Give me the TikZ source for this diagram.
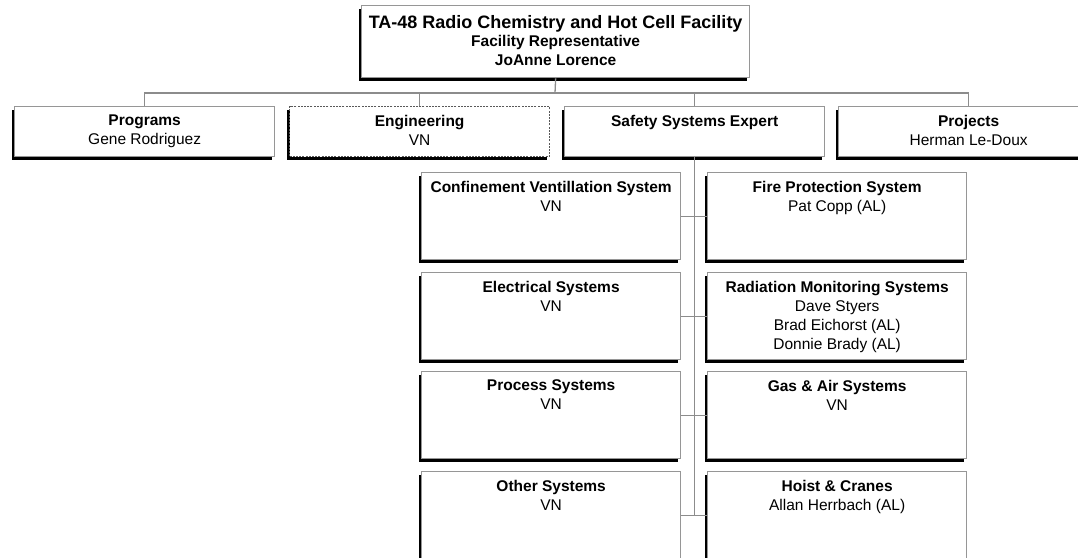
\documentclass[tikz,border=0pt]{standalone}
\usepackage{fontspec}
\setmainfont{Liberation Sans}
\usetikzlibrary{shadows}

\definecolor{boxgray}{RGB}{150,150,150}
\definecolor{linegray}{RGB}{140,140,140}

\tikzset{
    orgbox/.style={draw=boxgray, line width=1.3pt, fill=white, anchor=north west, inner sep=0pt,
        drop shadow={shadow xshift=-3pt, shadow yshift=-3pt, fill=black, opacity=1}},
    headbox/.style={orgbox, minimum width=388pt, minimum height=72pt},
    topbox/.style={orgbox, minimum width=260pt, minimum height=50pt},
    sysbox/.style={orgbox, minimum width=259pt, minimum height=87pt},
    vacant/.style={draw=black!65, dash pattern=on 2pt off 1.2pt},
    boxtext/.style={anchor=north, align=center, inner sep=0pt, font=\fontsize{15.5}{19}\selectfont},
    conn/.style={draw=linegray, line width=1.3pt}
}

\begin{document}
\begin{tikzpicture}[x=1pt, y=-1pt]
    \useasboundingbox (0,0) rectangle (1078,557);

    % Facility head
    \node[headbox] (head) at (361,5) {};
    \node[boxtext, font=\bfseries\fontsize{15.5}{19}\selectfont] (head-t) at ([yshift=-10pt]head.north)
        {{\fontsize{18}{21}\selectfont TA-48 Radio Chemistry and Hot Cell Facility}\\[-0.5pt] Facility Representative\\ JoAnne Lorence};

    % First level
    \node[topbox] (prog) at (14,106) {};
    \node[boxtext] (prog-t) at ([yshift=-8.7pt]prog.north) {\textbf{Programs}\\ Gene Rodriguez};
    \node[topbox, vacant] (eng) at (289,106) {};
    \node[boxtext] (eng-t) at ([yshift=-8.7pt]eng.north) {\textbf{Engineering}\\ VN};
    \node[topbox] (sse) at (564,106) {};
    \node[boxtext] (sse-t) at ([yshift=-8.7pt]sse.north) {\textbf{Safety Systems Expert}};
    \node[topbox] (proj) at (838,106) {};
    \node[boxtext] (proj-t) at ([yshift=-8.7pt]proj.north) {\textbf{Projects}\\ Herman Le-Doux};

    % Safety systems, left column
    \node[sysbox] (cvs) at (421,172) {};
    \node[boxtext] (cvs-t) at ([yshift=-8.7pt]cvs.north) {\textbf{Confinement Ventillation System}\\ VN};
    \node[sysbox] (elec) at (421,272) {};
    \node[boxtext] (elec-t) at ([yshift=-8.7pt]elec.north) {\textbf{Electrical Systems}\\ VN};
    \node[sysbox] (proc) at (421,371) {};
    \node[boxtext] (proc-t) at ([yshift=-8.7pt]proc.north) {\textbf{Process Systems}\\ VN};
    \node[sysbox] (other) at (421,471) {};
    \node[boxtext] (other-t) at ([yshift=-8.7pt]other.north) {\textbf{Other Systems}\\ VN};

    % Safety systems, right column
    \node[sysbox] (fire) at (707,172) {};
    \node[boxtext] (fire-t) at ([yshift=-8.7pt]fire.north) {\textbf{Fire Protection System}\\ Pat Copp (AL)};
    \node[sysbox] (rad) at (707,272) {};
    \node[boxtext] (rad-t) at ([yshift=-8.7pt]rad.north)
        {\textbf{Radiation Monitoring Systems}\\ Dave Styers\\ Brad Eichorst (AL)\\ Donnie Brady (AL)};
    \node[sysbox] (gas) at (707,371) {};
    \node[boxtext] (gas-t) at ([yshift=-8.7pt]gas.north) {\textbf{Gas \& Air Systems}\\ VN};
    \node[sysbox] (hoist) at (707,471) {};
    \node[boxtext] (hoist-t) at ([yshift=-8.7pt]hoist.north) {\textbf{Hoist \& Cranes}\\ Allan Herrbach (AL)};

    % Connectors
    \coordinate (bus) at (555,93);
    \draw[conn] (head.south) -- (bus);
    \draw[conn] (bus) -| (prog.north);
    \draw[conn] (bus) -| (eng.north);
    \draw[conn] (bus) -| (sse.north);
    \draw[conn] (bus) -| (proj.north);
    \draw[conn] (sse.south) -- (sse.south |- other.east);
    \draw[conn] (cvs.east) -- (fire.west);
    \draw[conn] (elec.east) -- (rad.west);
    \draw[conn] (proc.east) -- (gas.west);
    \draw[conn] (other.east) -- (hoist.west);
\end{tikzpicture}
\end{document}
